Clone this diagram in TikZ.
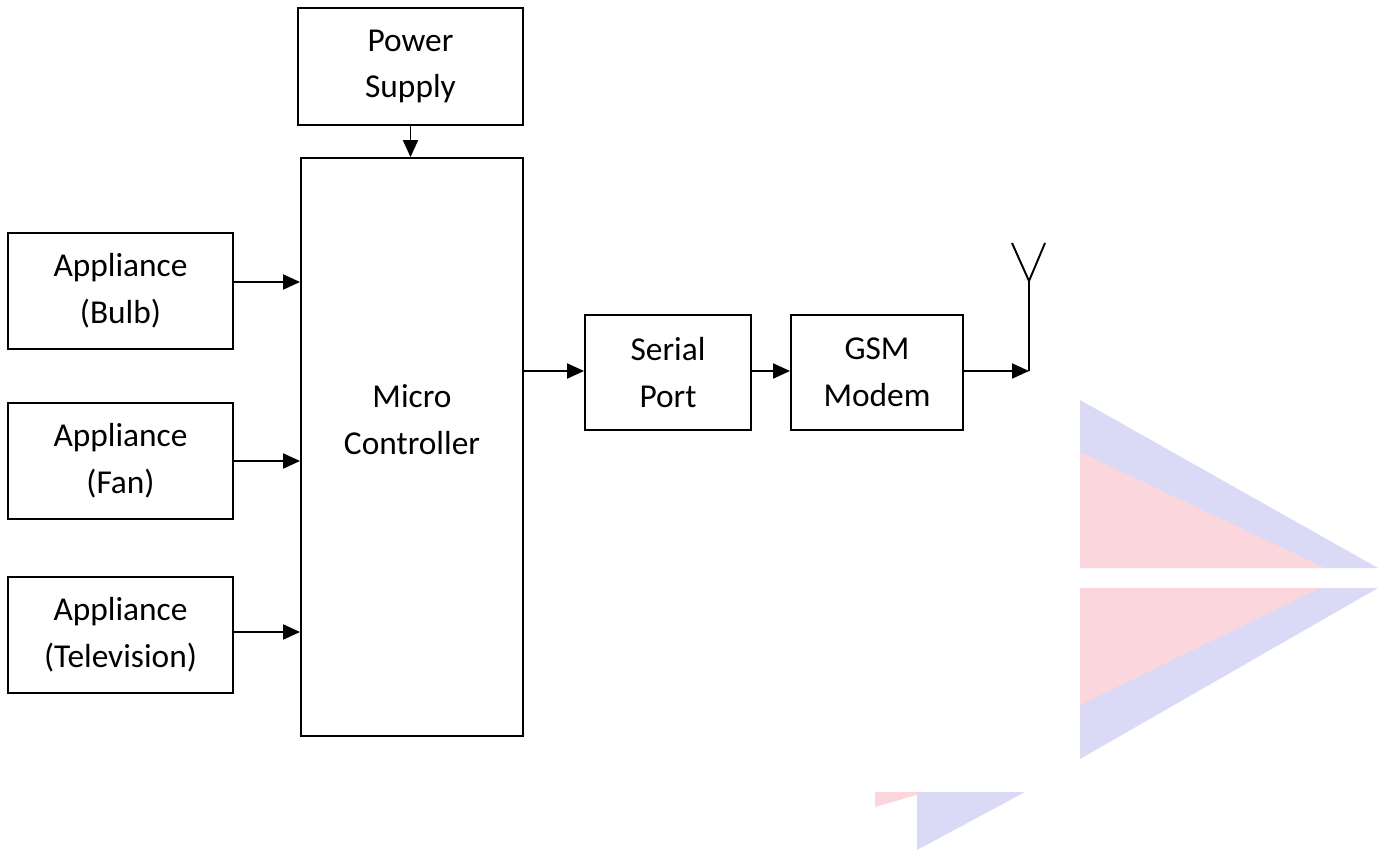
\documentclass[tikz,border=0pt]{standalone}
\usepackage{fontspec}
\setmainfont{Carlito}
\usepackage{tikz}
\usetikzlibrary{arrows.meta}
\definecolor{wmblue}{RGB}{218,218,247}
\definecolor{wmpink}{RGB}{251,214,221}
\tikzstyle{block} = [rectangle, draw=black, line width=1.1pt, align=center, inner sep=0pt, font=\fontsize{19}{26.7}\selectfont]
\tikzstyle{appliance} = [block, minimum width=4.5cm, minimum height=2.32cm]
\tikzstyle{arrow} = [line width=1.1pt, -{Triangle[length=0.34cm,width=0.3cm]}]
\tikzstyle{wire} = [line width=1.1pt]

\begin{document}
\begin{tikzpicture}[x=0.02cm, y=-0.02cm]
            \useasboundingbox (0,0) rectangle (1382,851);
            % watermark behind the diagram
            \fill [wmblue] (1080,400) -- (1378,568) -- (1080,568) -- cycle;
            \fill [wmpink] (1080,452) -- (1325,568) -- (1080,568) -- cycle;
            \fill [wmblue] (1080,588) -- (1378,588) -- (1080,759) -- cycle;
            \fill [wmpink] (1080,588) -- (1320,588) -- (1080,705) -- cycle;
            \fill [wmpink] (875,792) -- (927,792) -- (875,807) -- cycle;
            \fill [wmblue] (917,792) -- (1025,792) -- (917,850) -- cycle;

            \node (power-supply) [block, minimum width=4.5cm, minimum height=2.34cm] at (410.5,66.5) {Power\\Supply};
            \node (micro-controller) [block, minimum width=4.44cm, minimum height=11.56cm] at (412,447) {};
            \node (micro-text) [block, draw=none] at (412,420) {Micro\\Controller};
            \node (bulb) [appliance] at (120.5,291) {Appliance\\(Bulb)};
            \node (fan) [appliance] at (120.5,461) {Appliance\\(Fan)};
            \node (television) [appliance] at (120.5,635) {Appliance\\(Television)};
            \node (serial-port) [block, minimum width=3.32cm, minimum height=2.3cm] at (668,372.5) {Serial\\Port};
            \node (gsm-modem) [block, minimum width=3.44cm, minimum height=2.3cm] at (877,372.5) {GSM\\Modem};
            \coordinate (antenna) at (1029,371);
            \coordinate (antenna-top) at (1029,281);

            \draw [arrow] (power-supply.south) -- (power-supply.south |- micro-controller.north);
            \draw [arrow] ([yshift=0.18cm]bulb.east) -- ([yshift=0.18cm]bulb.east -| micro-controller.west);
            \draw [arrow] (fan.east) -- (fan.east -| micro-controller.west);
            \draw [arrow] ([yshift=0.06cm]television.east) -- ([yshift=0.06cm]television.east -| micro-controller.west);
            \draw [arrow] (micro-controller.east |- antenna) -- (serial-port.west |- antenna);
            \draw [arrow] (serial-port.east |- antenna) -- (gsm-modem.west |- antenna);
            \draw [arrow] (gsm-modem.east |- antenna) -- (antenna);
            \draw [wire] (antenna) -- (antenna-top) -- ++(-17,-38);
            \draw [wire] (antenna-top) -- ++(16,-38);
        \end{tikzpicture}
\end{document}
